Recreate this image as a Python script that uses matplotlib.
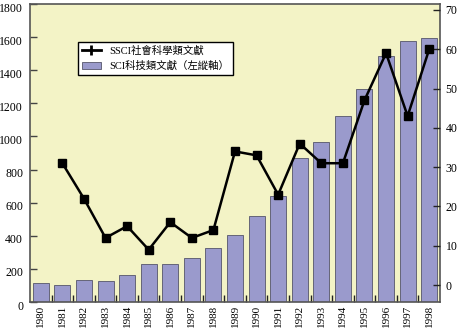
import numpy as np
import matplotlib
matplotlib.use('Agg')
import matplotlib.pyplot as plt
import matplotlib.transforms as mtransforms
from matplotlib.lines import Line2D
from matplotlib.patches import Patch

# ── data ────────────────────────────────────────────────────
years = [str(y) for y in range(1980, 1999)]
sci_counts = [115, 105, 135, 128, 165, 230, 228, 265, 325, 402,
              522, 642, 868, 968, 1125, 1285, 1488, 1575, 1592]
ssci_years = years[1:]
ssci_counts = [31, 22, 12, 15, 9, 16, 12, 14, 34, 33,
               23, 36, 31, 31, 47, 59, 43, 60]

left_ticks = list(range(0, 1801, 200))
right_ticks = list(range(0, 71, 10))

sci_label = 'SCI科技類文獻（左縱軸）'
ssci_label = 'SSCI社會科學類文獻'

FONT = ['Liberation Serif', 'Noto Sans CJK TC', 'DejaVu Sans']
plt.rcParams['font.family'] = FONT

fig = plt.figure(figsize=(4.57, 3.29), dpi=100)
ax1 = fig.add_axes([30 / 457, 1 - 302 / 329, 410 / 457, 298 / 329])
ax1.set_facecolor('#f3f3c6')

x = np.arange(len(years))
ax1.bar(x, sci_counts, width=0.74, color='#9a9acc',
        edgecolor='#55556a', linewidth=0.6, zorder=2)
ax1.set_xlim(-0.5, len(years) - 0.5)
ax1.set_ylim(0, 1800)
ax1.set_yticks(left_ticks)
ax1.set_yticklabels([str(t) for t in left_ticks], fontsize=8.5)
ax1.set_xticks(x)
ax1.set_xticklabels(years, rotation=90, fontsize=8)
ax1.tick_params(axis='x', length=0, pad=2)
ax1.set_xticks(x[:-1] + 0.5, minor=True)
ax1.tick_params(axis='x', which='minor', direction='in', length=5,
                width=1, color='#222222')
ax1.tick_params(axis='y', direction='in', length=5, width=1,
                color='#444444', pad=5)
for sp in ax1.spines.values():
    sp.set_color('#555555')
    sp.set_linewidth(1.2)

# labels on the left sit a few pixels below their ticks
shift = mtransforms.ScaledTranslation(0, -3 / 100, fig.dpi_scale_trans)
for lab in ax1.get_yticklabels():
    lab.set_transform(lab.get_transform() + shift)

ax2 = ax1.twinx()
sx = [years.index(y) for y in ssci_years]
ax2.plot(sx, ssci_counts, color='black', linewidth=1.8,
         marker='s', markersize=5.5, zorder=3)
ax2.set_ylim(-4.3, 71.5)
ax2.set_yticks(right_ticks)
ax2.set_yticklabels([str(t) for t in right_ticks], fontsize=8.5)
ax2.tick_params(axis='y', direction='in', length=5, width=1,
                color='#222222', pad=4)
for sp in ax2.spines.values():
    sp.set_visible(False)

handles = [Line2D([0], [0], color='black', linewidth=2, marker='|',
                  markersize=7, markeredgewidth=2),
           Patch(facecolor='#9a9acc', edgecolor='#55556a', linewidth=0.6)]
leg = ax1.legend(handles, [ssci_label, sci_label], loc='upper left',
                 bbox_to_anchor=(0.105, 0.89), fontsize=7.5,
                 frameon=True, fancybox=False, framealpha=1,
                 handlelength=1.8, borderpad=0.35, labelspacing=0.5)
leg.get_frame().set_edgecolor('black')
leg.get_frame().set_linewidth(1.0)
leg.get_frame().set_facecolor('white')

fig.savefig('out.png', dpi=100, facecolor='white')
